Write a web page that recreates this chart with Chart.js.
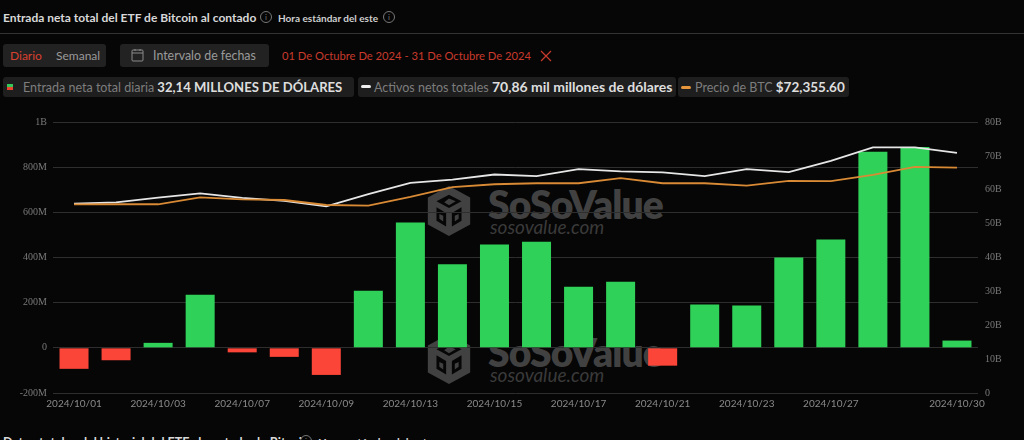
<!DOCTYPE html>
<html><head><meta charset="utf-8">
<script src="https://cdn.jsdelivr.net/npm/chart.js@4"></script>
<style>
html,body{margin:0;padding:0;background:#060606;width:1024px;height:440px;overflow:hidden;font-family:Lato,sans-serif;}
.abs{position:absolute;white-space:nowrap;}
.pill{position:absolute;background:#222;border-radius:3px;box-sizing:border-box;}
.info{display:inline-block;width:10px;height:10px;border:1px solid #777;border-radius:50%;color:#777;font-size:8px;line-height:10px;text-align:center;}
.chip{position:absolute;top:77px;height:20px;background:#1e1e1e;border-radius:3px;font-size:12.5px;line-height:20px;color:#7d7d7d;white-space:nowrap;box-sizing:border-box;}
.chip b{color:#dedede;font-size:14px;font-weight:700;}
.wm{position:absolute;color:#414141;white-space:nowrap;}
.wm1{font:800 39px/40px Lato,sans-serif;letter-spacing:-.9px;}
.wm2{font:italic 400 19px/20px Lato,sans-serif;color:#3a3a3a;}
#wrap{position:absolute;left:0;top:109px;width:1024px;height:298px;}
</style></head><body>
<div class="wm wm1" style="left:488px;top:184px;">SoSoValue</div>
<div class="wm wm2" style="left:490px;top:217px;">sosovalue.com</div>
<div class="wm wm1" style="left:488px;top:332px;">SoSoValue</div>
<div class="wm wm2" style="left:490px;top:365px;">sosovalue.com</div>
<svg class="abs" style="left:425px;top:185px" width="48" height="52" viewBox="0 0 48 54"><path d="M24 1 46 13V41L24 53 2 41V13Z" fill="#414141"/><path d="M24 10 37 17 24 24 11 17Z M11 23 21 29V43L11 37Z M37 23 27 29V43L37 37Z" fill="#060606"/><path d="M24 14 31 17 24 21 19 18Z M14 30 18 32V38L14 35Z M34 30 30 32V38L34 35Z" fill="#414141"/></svg>
<svg class="abs" style="left:425px;top:333px" width="48" height="52" viewBox="0 0 48 54"><path d="M24 1 46 13V41L24 53 2 41V13Z" fill="#414141"/><path d="M24 10 37 17 24 24 11 17Z M11 23 21 29V43L11 37Z M37 23 27 29V43L37 37Z" fill="#060606"/><path d="M24 14 31 17 24 21 19 18Z M14 30 18 32V38L14 35Z M34 30 30 32V38L34 35Z" fill="#414141"/></svg>

<div class="abs" style="left:3px;top:9px;font-size:12px;font-weight:700;color:#d8d8d8;line-height:17px;">Entrada neta total del ETF de Bitcoin al contado</div>
<span class="info abs" style="left:260px;top:11px;">i</span>
<div class="abs" style="left:278px;top:10px;font-size:10px;color:#cfcfcf;line-height:16px;font-weight:700;">Hora estándar del este</div>
<span class="info abs" style="left:383px;top:11px;">i</span>
<div class="abs" style="left:0;top:33px;width:1024px;height:1px;background:#333;"></div>

<div class="pill" style="left:3px;top:44px;width:103px;height:23px;"></div>
<div class="abs" style="left:10px;top:47px;font-size:12px;line-height:17px;color:#d8402f;">Diario</div>
<div class="abs" style="left:56px;top:47px;font-size:12px;line-height:17px;color:#9a9a9a;">Semanal</div>
<div class="pill" style="left:120px;top:44px;width:149px;height:23px;"></div>
<svg class="abs" style="left:131px;top:48px" width="13" height="14" viewBox="0 0 13 14"><rect x="1" y="2" width="11" height="11" rx="1" fill="none" stroke="#8a8a8a"/><path d="M1 5H12M4 1V3M9 1V3" stroke="#8a8a8a"/></svg>
<div class="abs" style="left:153px;top:47px;font-size:12.4px;line-height:17px;color:#9a9a9a;">Intervalo de fechas</div>
<div class="abs" style="left:282px;top:47px;font-size:11.2px;line-height:17px;color:#c83a2c;">01 De Octubre De 2024 - 31 De Octubre De 2024</div>
<svg class="abs" style="left:540px;top:50px" width="12" height="12" viewBox="0 0 12 12"><path d="M1 1 11 11M11 1 1 11" stroke="#c83a2c" stroke-width="1.2"/></svg>

<div class="chip" style="left:3px;width:351px;padding-left:20px;"><span class="abs" style="left:4px;top:7px;width:6px;height:3px;background:#35c759"></span><span class="abs" style="left:4px;top:10px;width:6px;height:3px;background:#e8432f"></span>Entrada neta total diaria <b style="font-size:13.1px">32,14 MILLONES DE DÓLARES</b></div>
<div class="chip" style="left:358px;width:318px;padding-left:16px;"><span class="abs" style="left:3px;top:8px;width:10px;height:3px;border-radius:2px;background:#eee"></span>Activos netos totales <b>70,86 mil millones de dólares</b></div>
<div class="chip" style="left:678px;width:171px;padding-left:17px;"><span class="abs" style="left:3px;top:9px;width:10px;height:3px;border-radius:2px;background:#e8963c"></span>Precio de BTC <b style="font-size:13.5px">$72,355.60</b></div>

<div id="wrap"><canvas id="c" width="1024" height="298"></canvas></div>
<div class="abs" style="left:3px;top:434px;font-size:12.5px;font-weight:700;color:#d8d8d8;line-height:17px;">Datos totales del historial del ETF al contado de Bitcoin</div>
<span class="info abs" style="left:300px;top:435px;">i</span>
<div class="abs" style="left:318px;top:434px;font-size:11.5px;color:#cfcfcf;line-height:17px;font-weight:700;">Hora estándar del este</div>

<script>
const categories=["2024/10/01","2024/10/02","2024/10/03","2024/10/04","2024/10/07","2024/10/08","2024/10/09","2024/10/10","2024/10/13","2024/10/14","2024/10/15","2024/10/16","2024/10/17","2024/10/18","2024/10/21","2024/10/22","2024/10/23","2024/10/24","2024/10/27","2024/10/28","2024/10/29","2024/10/30"];
const shownDates=["2024/10/01","2024/10/03","2024/10/07","2024/10/09","2024/10/13","2024/10/15","2024/10/17","2024/10/21","2024/10/23","2024/10/27","2024/10/30"];
const netInflowM=[-93,-55,22,235,-20,-40,-120,253,555,370,458,470,270,293,-79,192,187,400,480,868,889,32.14];
const netAssetsB=[55.9,56.3,57.7,58.9,57.6,56.7,55.1,58.7,62.0,63.0,64.5,64.0,66.1,65.4,65.1,64.0,66.1,65.2,68.5,72.5,72.5,70.86];
const btcPrice=[60580,60600,60590,62830,62190,61960,60350,60160,62930,66060,67020,67340,67340,68960,67340,67340,66600,68080,67990,70020,72600,72355.6];

const AXIS='#7a7a7a', XAXIS='#8a8a8a', GRID='#2e2e2e';
new Chart(document.getElementById('c'),{
  data:{labels:categories,datasets:[
    {type:'line',label:'Activos netos totales',data:netAssetsB,yAxisID:'assets',borderColor:'#e6e6e6',borderWidth:1.8,pointRadius:0,tension:0,order:1},
    {type:'line',label:'Precio de BTC',data:btcPrice,yAxisID:'price',borderColor:'#d98a35',borderWidth:1.8,pointRadius:0,tension:0,order:0},
    {type:'bar',label:'Entrada neta total diaria',data:netInflowM,yAxisID:'flow',backgroundColor:netInflowM.map(v=>v<0?'#fb4539':'#30d158'),categoryPercentage:1,barPercentage:0.69,order:2}
  ]},
  options:{responsive:false,animation:false,
    layout:{padding:0},
    plugins:{legend:{display:false},tooltip:{enabled:false}},
    scales:{
      x:{offset:true,grid:{display:false},border:{display:false},
        ticks:{autoSkip:false,maxRotation:0,minRotation:0,color:XAXIS,font:{family:'Lato',size:10},padding:-3,
          callback(v){const l=this.getLabelForValue(v);return shownDates.includes(l)?l:'';}}},
      flow:{position:'left',min:-200,max:1000,
        grid:{color:GRID,lineWidth:1,drawTicks:false},border:{display:false},
        afterFit(s){s.width=53;},
        ticks:{stepSize:200,color:AXIS,font:{family:'Liberation Serif',size:10},padding:6,
          callback(v){return v===1000?'1B':v===0?'0':v+'M';}}},
      assets:{position:'right',min:0,max:80,
        grid:{display:false,drawTicks:false},border:{display:false},
        afterFit(s){s.width=46;},
        ticks:{stepSize:10,color:AXIS,font:{family:'Liberation Serif',size:10},padding:7,
          callback(v){return v===0?'0':v+'B';}}},
      price:{display:false,min:0,max:87000}
    }
  }
});
</script>
</body></html>
